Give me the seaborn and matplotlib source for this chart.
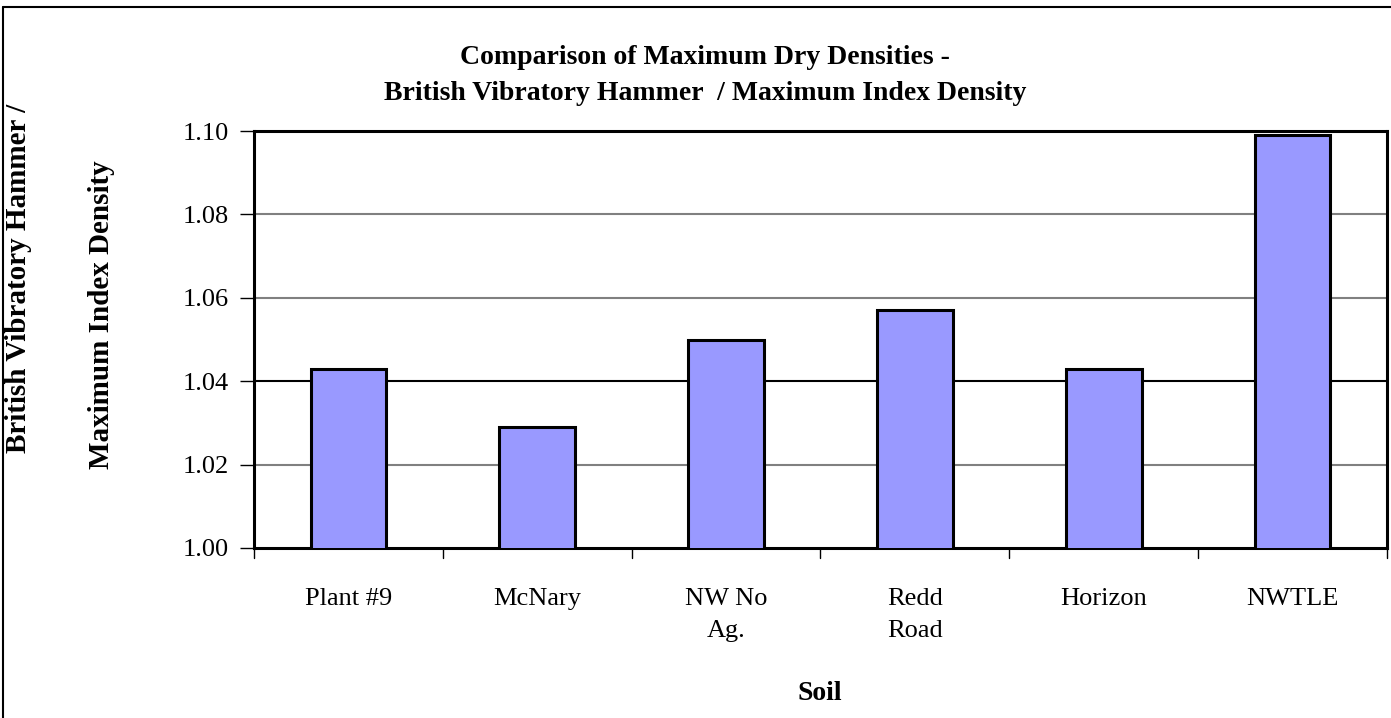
import matplotlib
matplotlib.use("Agg")
import matplotlib.pyplot as plt
from matplotlib.lines import Line2D
import pandas as pd
import seaborn as sns

soils = ["Plant #9", "McNary", "NW No\nAg.", "Redd\nRoad", "Horizon", "NWTLE"]
ratios = [1.043, 1.029, 1.050, 1.057, 1.043, 1.099]
y_ticks = [1.00, 1.02, 1.04, 1.06, 1.08, 1.10]

df = pd.DataFrame({"soil": soils, "ratio": ratios})

sns.set_style("white")
plt.rcParams["font.family"] = ["Liberation Serif", "DejaVu Serif"]
plt.rcParams["text.color"] = "black"
plt.rcParams["xtick.color"] = "black"
plt.rcParams["ytick.color"] = "black"

fig = plt.figure(figsize=(13.91, 7.18), dpi=100)
ax = fig.add_axes([254 / 1391, 1 - 548 / 718, (1387 - 254) / 1391, (548 - 131) / 718])

sns.barplot(data=df, x="soil", y="ratio", color="#9999FF", saturation=1,
            edgecolor="black", linewidth=2.2, width=0.4, ax=ax, zorder=3)

ax.set_ylim(1.00, 1.10)
ax.set_xlim(-0.5, len(soils) - 0.5)
ax.set_yticks(y_ticks)
ax.set_yticklabels([f"{v:.2f}" for v in y_ticks], fontsize=19)
ax.set_xticks(range(len(soils)))
ax.set_xticklabels(soils, fontsize=19, linespacing=1.55, va="top")

# category boundary ticks on x, none at the bar centres
ax.tick_params(axis="x", length=0, pad=29)
ax.tick_params(axis="y", direction="out", length=10, width=1, pad=8, left=True)
for b in [i - 0.5 for i in range(len(soils) + 1)]:
    ax.plot([b, b], [0, -0.025], transform=ax.get_xaxis_transform(),
            color="black", lw=1, clip_on=False)

for v in y_ticks[1:-1]:
    ax.axhline(v, color="black" if abs(v - 1.04) < 1e-9 else "#808080", lw=1.5, zorder=1)

for s in ax.spines.values():
    s.set_visible(True)
    s.set_color("black")
    s.set_linewidth(2.2)

ax.set_xlabel("")
ax.set_ylabel("")

fig.text(0.507, 1 - 57 / 718, "Comparison of Maximum Dry Densities -",
         ha="center", va="center", fontsize=20, fontweight="bold")
fig.text(0.507, 1 - 94 / 718, "British Vibratory Hammer  / Maximum Index Density",
         ha="center", va="center", fontsize=20, fontweight="bold")
fig.text(820 / 1391, 1 - 693 / 718, "Soil", ha="center", va="center",
         fontsize=20, fontweight="bold")
fig.text(19 / 1391, 1 - 278 / 718, "British Vibratory Hammer /", rotation=90,
         ha="center", va="center", fontsize=21, fontweight="bold")
fig.text(102 / 1391, 1 - 315 / 718, "Maximum Index Density", rotation=90,
         ha="center", va="center", fontsize=21, fontweight="bold")

# chart-area frame (top and left edges visible)
fig.add_artist(Line2D([3 / 1391, 3 / 1391], [0, 1 - 7 / 718], color="black", lw=1.5))
fig.add_artist(Line2D([3 / 1391, 1], [1 - 7 / 718, 1 - 7 / 718], color="black", lw=1.5))

fig.savefig("out.png", dpi=100)
